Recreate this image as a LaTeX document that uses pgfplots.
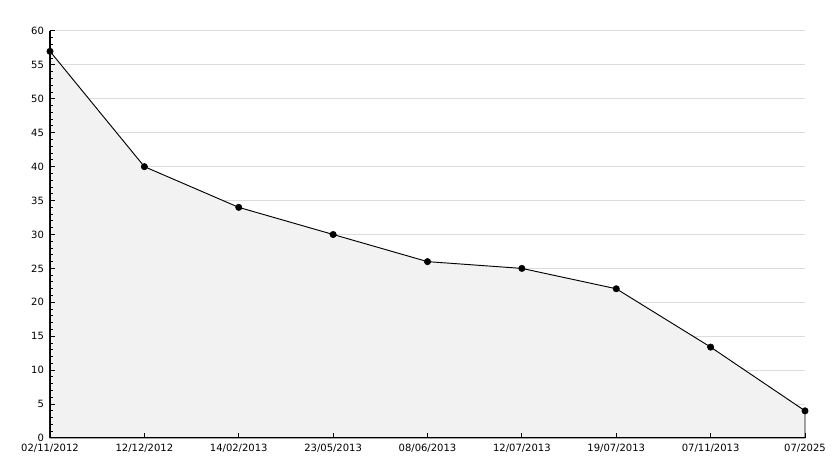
\documentclass[border=0pt]{standalone}
\usepackage{fontspec}
\setmainfont{DejaVu Sans}
\usepackage{pgfplots}
\pgfplotsset{compat=1.18}
\definecolor{fillgray}{HTML}{F2F2F2}
\definecolor{gridgray}{HTML}{DCDCDC}
\pgfplotsset{common/.style={
  scale only axis,
  width=566.25pt, height=305.25pt,
  xmin=0, xmax=8, ymin=0, ymax=60,
  axis x line=bottom, axis y line=left,
  axis line style={-, black, line width=0.75pt},
  xtick={0,1,2,3,4,5,6,7,8},
  ytick distance=5,
  minor y tick num=4,
  tick align=inside,
  major tick length=4pt,
  minor tick length=2.5pt,
  tick style={black, line width=0.75pt},
  clip=false,
}}
\begin{document}
\begin{tikzpicture}[x=1pt,y=1pt]
\begin{axis}[
  common,
  name=main,
  xticklabels={02/11/2012,12/12/2012,14/02/2013,23/05/2013,08/06/2013,12/07/2013,19/07/2013,07/11/2013,07/2025},
  ymajorgrids,
  major grid style={gridgray, line width=0.75pt},
  ticklabel style={font=\fontsize{7.5}{8}\selectfont},
  /pgf/number format/assume math mode=true,
  yticklabel style={xshift=-1pt},
  xticklabel style={yshift=-1pt},
]
\addplot[draw=black, line width=0.7pt, fill=fillgray, mark=none] coordinates {
(0,57) (1,40) (2,34) (3,30) (4,26) (5,25) (6,22) (7,13.4) (8,4)
} \closedcycle;
\addplot[only marks, mark=*, mark size=2.4pt, black] coordinates {
(0,57) (1,40) (2,34) (3,30) (4,26) (5,25) (6,22) (7,13.4) (8,4)
};
\end{axis}
\begin{axis}[
  common,
  xticklabels={},
  yticklabels={},
]
\addplot[draw=none, mark=none, forget plot] coordinates {(0,0) (8,60)};
\end{axis}
\path (main.south west) ++(-37.5pt,-22.5pt) coordinate (bl);
\path (main.north east) ++(21.75pt,23.25pt) coordinate (tr);
\useasboundingbox (bl) rectangle (tr);
\end{tikzpicture}
\end{document}
